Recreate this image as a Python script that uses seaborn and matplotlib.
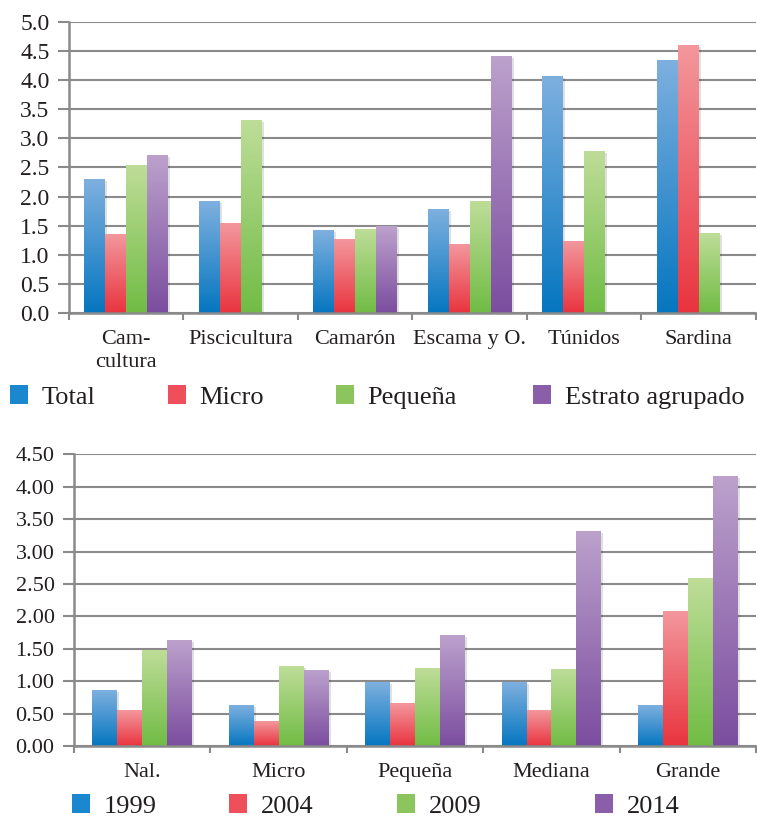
import numpy as np
import pandas as pd
import matplotlib
matplotlib.use("Agg")
import matplotlib.pyplot as plt
import matplotlib.patheffects as pe
from matplotlib.colors import LinearSegmentedColormap
from matplotlib.patches import Patch
import seaborn as sns

# --- data -----------------------------------------------------------------
sectors = ["Cam-\ncultura", "Piscicultura", "Camarón", "Escama y O.", "Túnidos", "Sardina"]
strata = ["Total", "Micro", "Pequeña", "Estrato agrupado"]
total = [2.30, 1.92, 1.41, 1.77, 4.06, 4.34]
micro = [1.35, 1.54, 1.27, 1.18, 1.23, 4.59]
pequena = [2.54, 3.30, 1.44, 1.91, 2.78, 1.37]
agrupado = [2.70, np.nan, 1.48, 4.41, np.nan, np.nan]

sizes = ["Nal.", "Micro", "Pequeña", "Mediana", "Grande"]
years = ["1999", "2004", "2009", "2014"]
y1999 = [0.85, 0.62, 0.98, 0.98, 0.62]
y2004 = [0.55, 0.38, 0.66, 0.54, 2.08]
y2009 = [1.48, 1.23, 1.20, 1.18, 2.58]
y2014 = [1.62, 1.16, 1.70, 3.31, 4.16]

top_df = pd.DataFrame({
    "cat": sectors * 4,
    "serie": np.repeat(strata, len(sectors)),
    "valor": total + micro + pequena + agrupado,
})
bot_df = pd.DataFrame({
    "cat": sizes * 4,
    "serie": np.repeat(years, len(sizes)),
    "valor": y1999 + y2004 + y2009 + y2014,
})

# --- style ----------------------------------------------------------------
sns.set_theme(style="white")
plt.rcParams["font.family"] = ["Liberation Serif", "DejaVu Serif"]

legend_cols = ["#1b87cf", "#ef4f5b", "#8cc55e", "#8a5ea8"]
# (top, bottom) colours of the vertical gradient in each bar
grad_cols = [("#7eb0df", "#0576c0"), ("#f3979d", "#e9343f"),
             ("#bedd98", "#71bc45"), ("#bca1cc", "#7b4d9f")]
grid_col = "#8a8a8a"
text_col = "#231f20"

fig = plt.figure(figsize=(7.57, 8.17), dpi=100)
ax_top = fig.add_axes([0.0911, 0.6169, 0.9075, 0.3562])
ax_bot = fig.add_axes([0.0978, 0.0869, 0.9010, 0.3570])


def shade_bars(ax):
    grad = np.linspace(0, 1, 256).reshape(-1, 1)
    for cont, (c_top, c_bot) in zip(ax.containers, grad_cols):
        cmap = LinearSegmentedColormap.from_list("g", [c_bot, c_top])
        for bar in cont:
            h = bar.get_height()
            if not np.isfinite(h) or h <= 0:
                continue
            x, w = bar.get_x(), bar.get_width()
            bar.set_facecolor(c_bot)
            bar.set_edgecolor("none")
            bar.set_path_effects([
                pe.SimplePatchShadow(offset=(1.5, -1), shadow_rgbFace="black", alpha=0.12),
                pe.Normal(),
            ])
            ax.imshow(grad, extent=(x, x + w, 0, h), origin="lower", cmap=cmap,
                      aspect="auto", interpolation="bilinear",
                      zorder=bar.get_zorder() + 0.05)


def style_axes(ax, df, ymax, yticks, fmt, ysize):
    sns.barplot(data=df, x="cat", y="valor", hue="serie",
                palette=legend_cols, width=0.73, errorbar=None, ax=ax,
                legend=False, saturation=1)
    shade_bars(ax)
    n = df["cat"].nunique()
    ax.set_xlim(-0.5, n - 0.5)
    ax.set_ylim(0, ymax)
    ax.set_xlabel("")
    ax.set_ylabel("")
    ax.set_axisbelow(True)
    ax.yaxis.grid(True, color=grid_col, lw=1.5)
    ax.set_yticks(yticks)
    ax.set_yticklabels([fmt.format(v) for v in yticks])
    for s in ("top", "right"):
        ax.spines[s].set_visible(False)
    for s in ("left", "bottom"):
        ax.spines[s].set_color(grid_col)
        ax.spines[s].set_linewidth(1.8)
    ax.tick_params(axis="y", left=True, length=8, width=1.5, color=grid_col,
                   pad=6, labelsize=ysize, labelcolor=text_col)
    cats = list(dict.fromkeys(df["cat"]))
    ax.set_xticks(np.arange(-0.5, n, 1.0))
    ax.set_xticklabels([""] * (n + 1))
    ax.set_xticks(np.arange(n), minor=True)
    ax.set_xticklabels(cats, minor=True, fontsize=16, color=text_col,
                       linespacing=1.3)
    ax.tick_params(axis="x", which="major", bottom=True, length=5, width=1.5,
                   color=grid_col, direction="out")
    ax.tick_params(axis="x", which="minor", bottom=False, length=0, pad=12)


style_axes(ax_top, top_df, 5.0, np.arange(0, 5.01, 0.5), "{:.1f}", 17)
style_axes(ax_bot, bot_df, 4.5, np.arange(0, 4.51, 0.5), "{:.2f}", 16)


def legend_row(labels, xs, y):
    for lab, col, x in zip(labels, legend_cols, xs):
        fig.legend(handles=[Patch(facecolor=col, edgecolor="none")], labels=[lab],
                   loc="center left", bbox_to_anchor=(x / 757, y),
                   frameon=False, fontsize=19, handlelength=0.7, handleheight=0.7,
                   handletextpad=0.5, borderpad=0, borderaxespad=0,
                   labelcolor=text_col)


legend_row(strata, [10, 168, 336, 533], 1 - 397 / 817)
legend_row(years, [72, 229, 397, 595], 1 - 806 / 817)

fig.savefig("out.png", dpi=100, facecolor="white")
